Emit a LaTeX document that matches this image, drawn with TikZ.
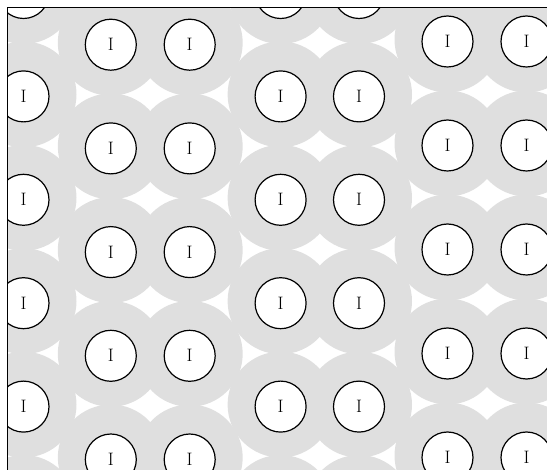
\documentclass[tikz,border=0pt]{standalone}
\begin{document}
\begin{tikzpicture}[x=1pt,y=-1pt,
  halo/.style={fill=gray!25},
  cell/.style={circle, draw, line width=1.2pt, fill=white, minimum size=51pt, inner sep=0pt, font=\fontsize{18}{20}\selectfont},
  frameline/.style={line width=1pt}]
\useasboundingbox (0,0) rectangle (547,470);
\begin{scope}
\clip (7.3,7.3) rectangle (547,470);
% gray halos (slightly raised with respect to the circles)
\foreach \cx/\cy/\dy/\n in {23.5/-7/103.4/5, 280.6/-7/103.4/5, 359/-7/103.4/5,
                            110.8/44.7/103.7/4, 189.7/44.7/103.7/4,
                            447.5/41.5/104/4, 526.5/41.5/104/4}{
  \foreach \j in {0,...,\n}{
    \pgfmathsetmacro\yy{\cy+\dy*\j-2}
    \fill[halo] (\cx,\yy) circle[radius=53];
  }
}
% circles cut by the top edge (their letters lie outside the picture)
\foreach \cx/\tag in {23.5/L, 280.6/Ba, 359/Bb}{
  \node[cell] (n-\tag-0) at (\cx,-7) {};
}
% circles
\foreach \cx/\cy/\dy/\a/\tag in {23.5/-7/103.4/1/L, 280.6/-7/103.4/1/Ba, 359/-7/103.4/1/Bb,
                              110.8/44.7/103.7/0/Aa, 189.7/44.7/103.7/0/Ab,
                              447.5/41.5/104/0/Ca, 526.5/41.5/104/0/Cb}{
  \foreach \j in {\a,...,4}{
    \pgfmathsetmacro\yy{\cy+\dy*\j}
    \node[cell] (n-\tag-\j) at (\cx,\yy) {I};
  }
}
\end{scope}
\coordinate (tr) at (547,7.3);
\coordinate (tl) at (7.3,7.3);
\coordinate (bl) at (7.3,470);
\draw[frameline] (tr) -- (tl) -- (bl);
\end{tikzpicture}
\end{document}
